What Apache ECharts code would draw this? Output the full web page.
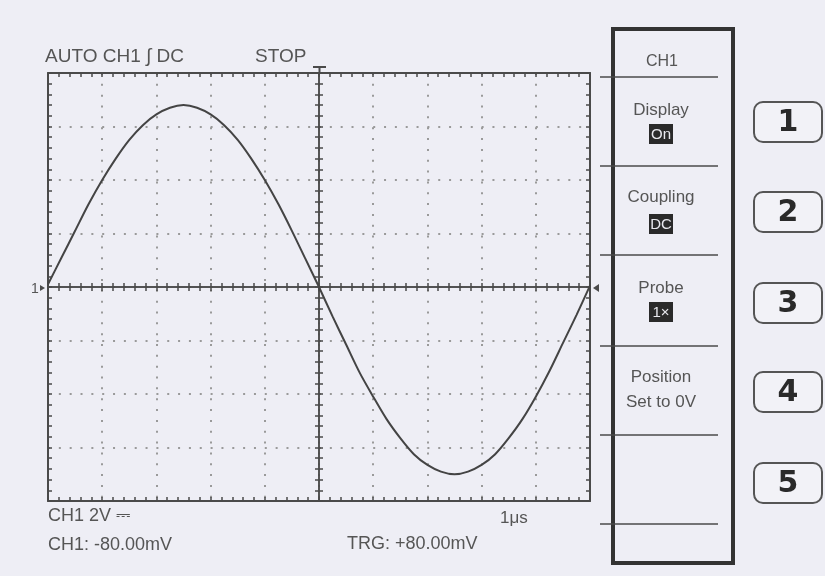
<!DOCTYPE html>
<html>
<head>
<meta charset="utf-8">
<script src="https://cdn.jsdelivr.net/npm/echarts@6/dist/echarts.min.js"></script>
<style>
  html, body { margin: 0; padding: 0; background: #eeeef5; }
  #main { width: 825px; height: 576px; }
</style>
</head>
<body>
<div id="main"></div>
<script>
// time in us (trigger at 0), 1us/div
const times = [-5, -4.75, -4.5, -4.25, -4, -3.75, -3.5, -3.25, -3, -2.75, -2.5, -2.25, -2, -1.75, -1.5, -1.25, -1, -0.75, -0.5, -0.25, 0,
  0.25, 0.5, 0.75, 1, 1.25, 1.5, 1.75, 2, 2.25, 2.5, 2.75, 3, 3.25, 3.5, 3.75, 4, 4.25, 4.5, 4.75, 5]
// CH1 volts, 2V/div
const volts = [0.1, 1.1, 2.1, 3.1, 4.0, 4.8, 5.5, 6.05, 6.45, 6.7, 6.8, 6.7, 6.45, 6.05, 5.5, 4.8, 4.0, 3.1, 2.1, 1.05, 0,
  -1.1, -2.15, -3.2, -4.1, -4.95, -5.65, -6.25, -6.65, -6.9, -7.0, -6.9, -6.65, -6.25, -5.65, -4.95, -4.1, -3.15, -2.1, -1.05, 0.05]

const headerTexts = ['AUTO CH1 \u222B DC', 'STOP']
const footerTexts = ['CH1 2V \u2393', 'CH1: -80.00mV', '1\u03BCs', 'TRG: +80.00mV']
const menuTitle = 'CH1'
const menuItems = ['Display', 'Coupling', 'Probe', 'Position']
const menuValues = ['On', 'DC', '1\u00D7', 'Set to 0V']
const buttons = ['1', '2', '3', '4', '5']

const chart = echarts.init(document.getElementById('main'))

const ink = '#4a4a4a'
const font = "'Liberation Sans', Arial, sans-serif"

// border axis (ticks pointing into the screen)
function edgeAxis(extra) {
  return Object.assign({
    type: 'value',
    axisLine: {show: true, onZero: false, lineStyle: {color: ink, width: 2}},
    axisTick: {show: true, inside: true, length: 4, lineStyle: {color: ink, width: 1.5}},
    minorTick: {show: true, splitNumber: 5, length: 4, lineStyle: {color: ink, width: 1.5}},
    axisLabel: {show: false},
    splitLine: {show: false}
  }, extra)
}

// centre cross, one axis for each tick direction
function centerAxis(extra, inside) {
  return Object.assign({
    type: 'value',
    axisLine: {show: true, onZero: true, onZeroAxisIndex: 0, lineStyle: {color: ink, width: 1.5}},
    axisTick: {show: true, inside: inside, length: 4, lineStyle: {color: ink, width: 1.5}},
    minorTick: {show: true, splitNumber: 5, length: 4, lineStyle: {color: ink, width: 1.5}},
    axisLabel: {show: false},
    splitLine: {show: false}
  }, extra)
}

const dotted = {show: true, lineStyle: {color: '#9a9a9a', width: 2, type: [2, 8.84]}}

const xRange = {min: -5, max: 5, interval: 1}
const yRange = {min: -8, max: 8, interval: 2}

const graphic = []
const txt = (x, y, text, size, opts) => graphic.push(Object.assign({
  type: 'text', x: x, y: y, silent: true,
  style: Object.assign({text: text, fill: '#555', font: `${size}px ${font}`, verticalAlign: 'middle', align: 'left'}, opts || {})
}))

// header and footer
txt(45, 57, headerTexts[0], 19)
txt(255, 57, headerTexts[1], 19)
txt(48, 516, footerTexts[0], 18)
txt(48, 545, footerTexts[1], 18)
txt(500, 518, footerTexts[2], 17)
txt(347, 544, footerTexts[3], 18)

// trigger marker on top, level marker at right, channel marker at left
graphic.push({type: 'line', shape: {x1: 313, y1: 67, x2: 326, y2: 67}, style: {stroke: ink, lineWidth: 2}})
graphic.push({type: 'line', shape: {x1: 319.5, y1: 67, x2: 319.5, y2: 74}, style: {stroke: ink, lineWidth: 2}})
graphic.push({type: 'polygon', shape: {points: [[593, 288], [599, 284], [599, 292]]}, style: {fill: ink}})
txt(31, 289, '1', 14)
graphic.push({type: 'polygon', shape: {points: [[45, 288], [40, 285], [40, 291]]}, style: {fill: ink}})

// menu panel
graphic.push({type: 'rect', shape: {x: 613, y: 29, width: 120, height: 534}, style: {fill: 'none', stroke: '#333', lineWidth: 4}})
const seps = [77, 166, 255, 346, 435, 524]
seps.forEach(y => graphic.push({type: 'line', shape: {x1: 600, y1: y, x2: 718, y2: y}, style: {stroke: ink, lineWidth: 1.5}}))
txt(662, 62, menuTitle, 16, {align: 'center'})
const titleY = [110, 197, 288, 377]
const valueY = [134, 224, 312, 402]
menuItems.forEach((t, i) => {
  txt(661, titleY[i], t, 17, {align: 'center'})
  if (i < 3) {
    graphic.push({type: 'rect', shape: {x: 649, y: valueY[i] - 10, width: 24, height: 20}, style: {fill: '#2a2a2a'}})
    txt(661, valueY[i] + 1, menuValues[i], 15, {align: 'center', fill: '#e8e8ee'})
  } else {
    txt(661, valueY[i], menuValues[i], 17, {align: 'center'})
  }
})

// soft keys
const btnY = [102, 192, 283, 372, 463]
buttons.forEach((b, i) => {
  graphic.push({type: 'rect', shape: {x: 754, y: btnY[i], width: 68, height: 40, r: 9}, style: {fill: '#f2f2f7', stroke: '#555', lineWidth: 2}})
  txt(788, btnY[i] + 21, b, 30, {align: 'center', fill: '#2a2a2a', font: "bold 30px 'DejaVu Sans', sans-serif"})
})

const option = {
  backgroundColor: '#eeeef5',
  animation: false,
  grid: {left: 48, right: 235, top: 73, bottom: 75, show: false},
  xAxis: [
    edgeAxis(Object.assign({position: 'bottom', splitLine: dotted}, xRange)),
    edgeAxis(Object.assign({position: 'top'}, xRange)),
    centerAxis(Object.assign({position: 'bottom'}, xRange), true),
    centerAxis(Object.assign({position: 'bottom'}, xRange), false)
  ],
  yAxis: [
    edgeAxis(Object.assign({position: 'left', splitLine: dotted}, yRange)),
    edgeAxis(Object.assign({position: 'right'}, yRange)),
    centerAxis(Object.assign({position: 'left'}, yRange), true),
    centerAxis(Object.assign({position: 'left'}, yRange), false)
  ],
  series: [{
    type: 'line',
    xAxisIndex: 0,
    yAxisIndex: 0,
    data: times.map((t, i) => [t, volts[i]]),
    showSymbol: false,
    smooth: 0.3,
    lineStyle: {color: '#444', width: 2},
    silent: true
  }],
  graphic: graphic
}

chart.setOption(option)
</script>
</body>
</html>
